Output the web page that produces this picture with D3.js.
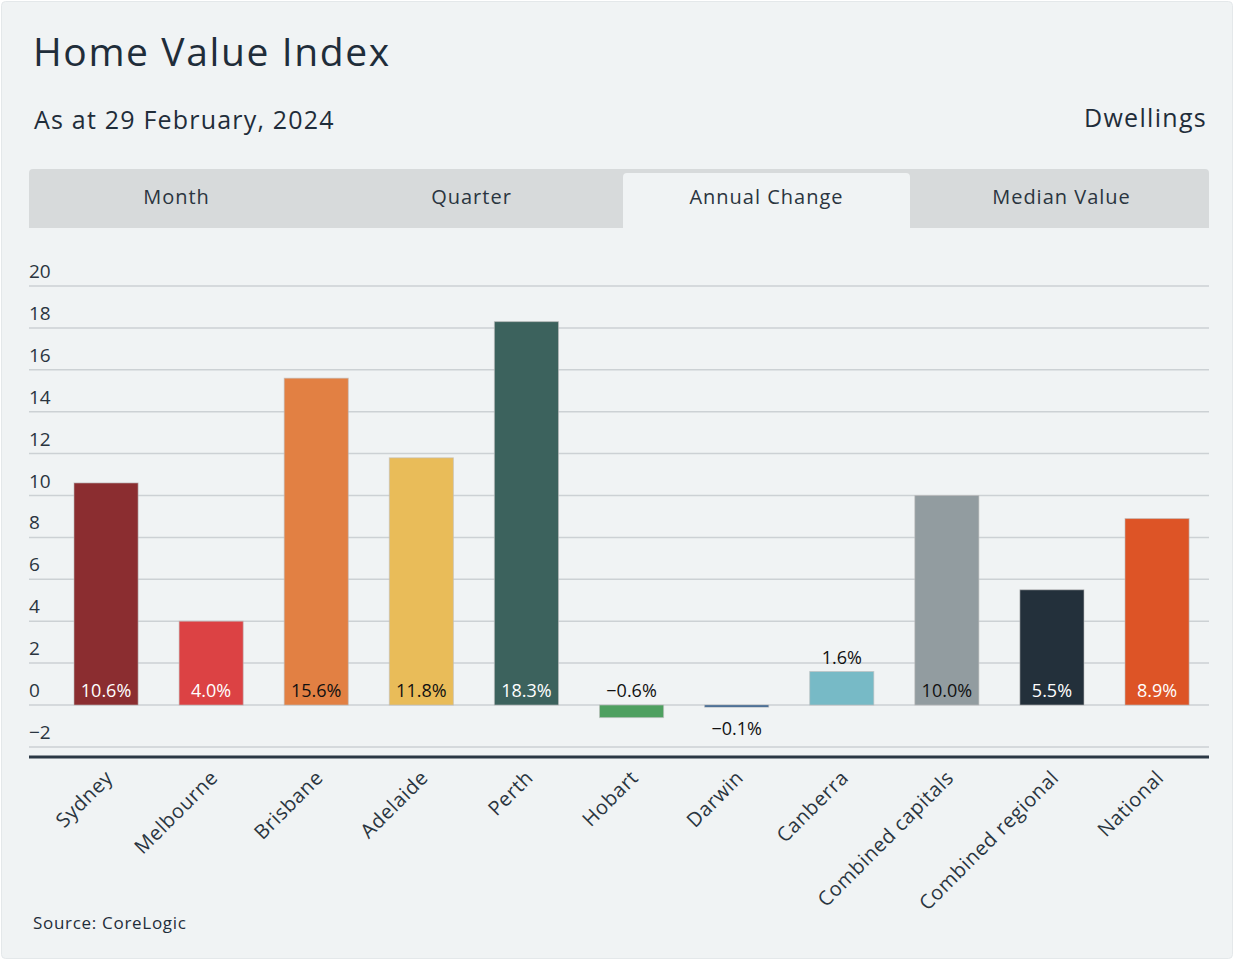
<!DOCTYPE html>
<html>
<head>
<meta charset="utf-8">
<script src="https://cdn.jsdelivr.net/npm/d3@7/dist/d3.min.js"></script>
<style>
  html, body { margin: 0; padding: 0; background: #ffffff; }
  svg { display: block; font-family: "Open Sans", "Noto Sans", sans-serif; }
</style>
</head>
<body>
<svg id="chart" width="1234" height="962"></svg>
<script>
// ---- data ----
const categories = ["Sydney", "Melbourne", "Brisbane", "Adelaide", "Perth", "Hobart", "Darwin", "Canberra", "Combined capitals", "Combined regional", "National"];
const annualChange = [10.6, 4.0, 15.6, 11.8, 18.3, -0.6, -0.1, 1.6, 10.0, 5.5, 8.9];
const barColors = ["#8b2d30", "#dc4244", "#e28043", "#e9bc59", "#3c625d", "#4ea060", "#2e5b8c", "#77bac6", "#929ca0", "#23303b", "#dd5426"];
const yTicks = [-2, 0, 2, 4, 6, 8, 10, 12, 14, 16, 18, 20];
const tabs = ["Month", "Quarter", "Annual Change", "Median Value"];
const activeTab = "Annual Change";
const title = "Home Value Index";
const subtitle = "As at 29 February, 2024";
const measure = "Dwellings";
const source = "Source: CoreLogic";

// ---- layout ----
const svg = d3.select("#chart");
const ink = "#1f2d3a";
const bg = "#f0f3f4";

svg.append("rect").attr("x", 1.5).attr("y", 1.5).attr("width", 1231).attr("height", 957)
  .attr("rx", 4).attr("fill", bg).attr("stroke", "#e4e8ea");

svg.append("text").attr("x", 33).attr("y", 66).attr("fill", ink)
  .attr("font-size", 39).attr("font-weight", 500).attr("letter-spacing", 1.6).text(title);
svg.append("text").attr("x", 34).attr("y", 129).attr("fill", ink)
  .attr("font-size", 25).attr("font-weight", 500).attr("letter-spacing", 1.2).text(subtitle);
svg.append("text").attr("x", 1207).attr("y", 127).attr("fill", ink)
  .attr("text-anchor", "end").attr("font-size", 25).attr("letter-spacing", 1.3).text(measure);

// tabs
const tabScale = d3.scaleBand().domain(tabs).range([29, 1209]);
svg.append("path").attr("fill", "#d7dadb")
  .attr("d", `M29,228 V173 Q29,169 33,169 H1205 Q1209,169 1209,173 V228 Z`);
const at = tabScale(activeTab), aw = tabScale.bandwidth();
svg.append("path").attr("fill", bg)
  .attr("d", `M${at + 4},228 V177 Q${at + 4},173 ${at + 8},173 H${at + aw - 8} Q${at + aw - 4},173 ${at + aw - 4},177 V228 Z`);
svg.append("g").selectAll("text").data(tabs).join("text")
  .attr("x", d => tabScale(d) + tabScale.bandwidth() / 2)
  .attr("y", 204).attr("text-anchor", "middle")
  .attr("font-size", 20).attr("letter-spacing", 1).attr("fill", "#2a3540").text(d => d);

// scales
const x = d3.scaleBand().domain(categories).range([53.5, 1209.6]).paddingInner(0.39).paddingOuter(0.195);
const y = d3.scaleLinear().domain([-2.5, 20]).range([757.4, 286]);

// grid + y labels
const gridG = svg.append("g");
gridG.selectAll("line").data(yTicks).join("line")
  .attr("x1", 29).attr("x2", 1209).attr("y1", d => y(d)).attr("y2", d => y(d))
  .attr("stroke", "#ccd1d4").attr("stroke-width", 1.5);
gridG.selectAll("text").data(yTicks).join("text")
  .attr("x", 29).attr("y", d => y(d) - 8)
  .attr("font-size", 19).attr("fill", "#2a3540")
  .text(d => d < 0 ? "\u2212" + Math.abs(d) : d);

// bars
const data = categories.map((c, i) => ({ c, v: annualChange[i], color: barColors[i] }));
svg.append("g").selectAll("rect").data(data).join("rect")
  .attr("x", d => x(d.c)).attr("width", x.bandwidth())
  .attr("y", d => y(Math.max(0, d.v)))
  .attr("height", d => Math.max(1.5, Math.abs(y(d.v) - y(0))))
  .attr("fill", d => d.color)
  .attr("stroke", "rgba(190,190,190,0.6)").attr("stroke-width", 1);

// value labels
const darkText = new Set(["Brisbane", "Adelaide", "Combined capitals"]);
function fmt(v) { return (v < 0 ? "\u2212" : "") + Math.abs(v).toFixed(1) + "%"; }
svg.append("g").selectAll("text").data(data).join("text")
  .attr("x", d => x(d.c) + x.bandwidth() / 2)
  .attr("y", d => {
    if (d.v >= 3) return y(0) - 8;
    if (d.v > 0) return y(d.v) - 8;
    if (d.v > -0.3) return y(0) + 30;
    return y(0) - 8;
  })
  .attr("text-anchor", "middle").attr("font-size", 18)
  .attr("fill", d => (d.v >= 3 && !darkText.has(d.c)) ? "#ffffff" : "#111111")
  .text(d => fmt(d.v));

// axis line
svg.append("line").attr("x1", 29).attr("x2", 1209).attr("y1", 757).attr("y2", 757)
  .attr("stroke", "#2b3845").attr("stroke-width", 3);

// x labels
const xAxis = d3.axisBottom(x).tickSize(0).tickPadding(0);
const xg = svg.append("g").attr("transform", "translate(0,770)").call(xAxis);
xg.select(".domain").remove();
xg.selectAll("text")
  .attr("font-family", "Open Sans, sans-serif").attr("font-size", 20).attr("letter-spacing", 0.6)
  .attr("fill", "#2a3540")
  .attr("text-anchor", "end").attr("dy", 0)
  .attr("transform", "translate(8,9) rotate(-45)");

svg.append("text").attr("x", 33).attr("y", 929).attr("font-size", 17).attr("letter-spacing", 0.7)
  .attr("fill", ink).text(source);
</script>
</body>
</html>
